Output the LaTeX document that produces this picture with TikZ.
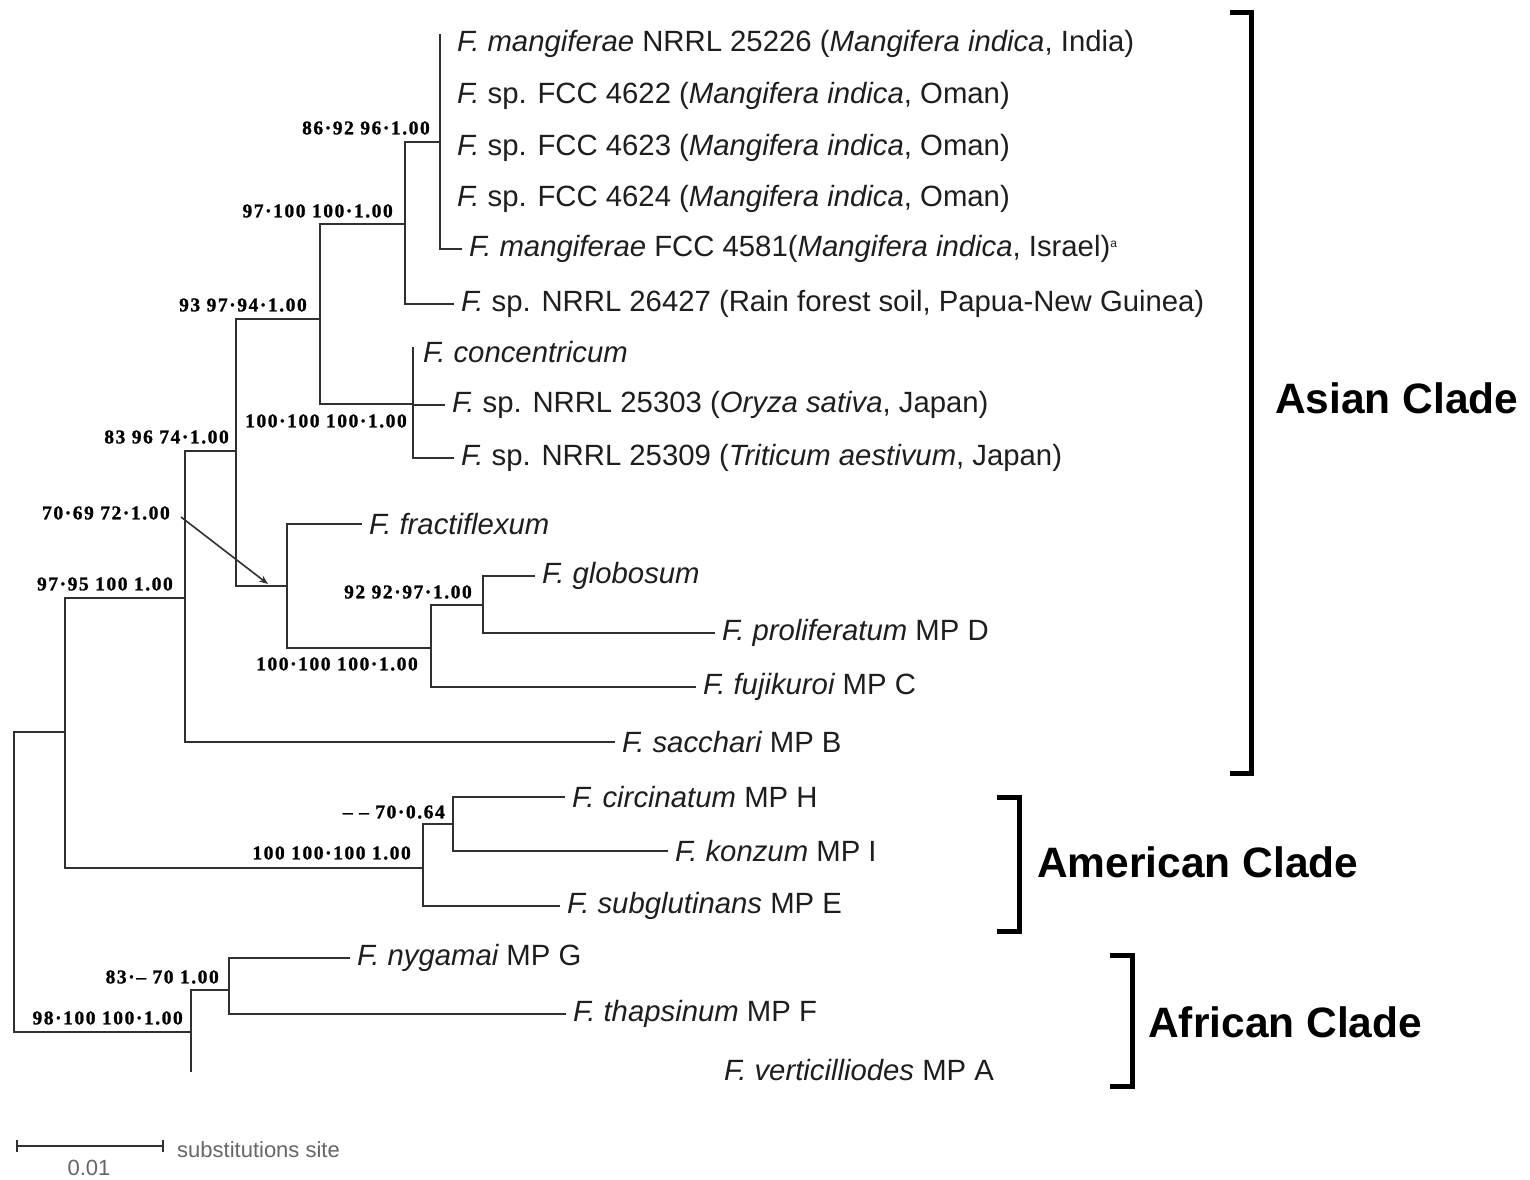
\documentclass[tikz,border=0pt]{standalone}
\usepackage{fontspec}
\setmainfont{Liberation Sans}
\newfontfamily\bsfont[LetterSpace=8,FakeBold=1.2,UprightFont={* Bold}]{Liberation Serif}
\usetikzlibrary{arrows.meta}
\definecolor{treegray}{HTML}{303030}
\definecolor{textgray}{HTML}{1E1E1E}
\tikzset{
  br/.style={draw=treegray, line width=2.9pt},
  leaf/.style={anchor=west, inner xsep=7pt, inner ysep=0pt, text=textgray, font=\fontsize{29.3}{32}\selectfont},
  bs/.style={anchor=east, inner sep=0pt, font=\bsfont\fontsize{19.5}{21}\selectfont},
  clade/.style={anchor=west, inner sep=0pt, font=\fontsize{42.5}{46}\selectfont\bfseries},
  brk/.style={draw=black, line width=5pt},
  sbar/.style={draw=treegray, line width=1.6pt},
  sbtext/.style={inner sep=0pt, text=gray!80!black, font=\fontsize{22}{24}\selectfont},
}
\newcommand{\spn}[1]{{\itshape #1}}
\begin{document}
\begin{tikzpicture}[x=1pt, y=-1pt]
\useasboundingbox (0,0) rectangle (1530,1179);
\fill[white] (0,0) rectangle (1530,1179);

% internal nodes
\coordinate (R) at (14,880);
\coordinate (n65) at (65,732);
\coordinate (n185) at (185,598);
\coordinate (n236) at (236,451);
\coordinate (n320) at (320,319);
\coordinate (n405) at (405,224);
\coordinate (n440) at (440,142);
\coordinate (n413) at (413,404);
\coordinate (n287) at (287,586);
\coordinate (n431) at (431,648);
\coordinate (n483) at (483,605);
\coordinate (n423) at (423,868);
\coordinate (n453) at (453,824);
\coordinate (n191) at (191,1032);
\coordinate (n229) at (229,990);

% zero-length tips
\coordinate (t1) at (440,34);
\coordinate (t2) at (440,96);
\coordinate (t3) at (440,148);
\coordinate (t4) at (440,199);
\coordinate (t7) at (413,347);
\coordinate (t21) at (191,1072);

% leaf labels
\node[leaf] (l1) at (450,44) {\spn{F. mangiferae} NRRL 25226 (\spn{Mangifera indica}, India)};
\node[leaf] (l2) at (450,96) {\spn{F.} sp. FCC 4622 (\spn{Mangifera indica}, Oman)};
\node[leaf] (l3) at (450,148) {\spn{F.} sp. FCC 4623 (\spn{Mangifera indica}, Oman)};
\node[leaf] (l4) at (450,199) {\spn{F.} sp. FCC 4624 (\spn{Mangifera indica}, Oman)};
\node[leaf] (l5) at (462,249) {\spn{F. mangiferae} FCC 4581(\spn{Mangifera indica}, Israel)\textsuperscript{\fontsize{12}{12}\selectfont a}};
\node[leaf] (l6) at (454,304) {\spn{F.} sp. NRRL 26427 (Rain forest soil, Papua-New Guinea)};
\node[leaf] (l7) at (416,352) {\spn{F. concentricum}};
\node[leaf] (l8) at (445,405) {\spn{F.} sp. NRRL 25303 (\spn{Oryza sativa}, Japan)};
\node[leaf] (l9) at (454,458) {\spn{F.} sp. NRRL 25309 (\spn{Triticum aestivum}, Japan)};
\node[leaf] (l10) at (362,524) {\spn{F. fractiflexum}};
\node[leaf] (l11) at (535,576) {\spn{F. globosum}};
\node[leaf] (l12) at (715,633) {\spn{F. proliferatum} MP D};
\node[leaf] (l13) at (696,687) {\spn{F. fujikuroi} MP C};
\node[leaf] (l14) at (615,742) {\spn{F. sacchari} MP B};
\node[leaf] (l15) at (565,797) {\spn{F. circinatum} MP H};
\node[leaf] (l16) at (668,851) {\spn{F. konzum} MP I};
\node[leaf] (l17) at (560,906) {\spn{F. subglutinans} MP E};
\node[leaf] (l18) at (350,958) {\spn{F. nygamai} MP G};
\node[leaf] (l19) at (566,1014) {\spn{F. thapsinum} MP F};
\node[leaf] (l20) at (717,1070) {\spn{F. verticilliodes} MP A};

% branches
\draw[br] (R) |- (n65);
\draw[br] (R) |- (n191);
\draw[br] (n65) |- (n185);
\draw[br] (n65) |- (n423);
\draw[br] (n185) |- (n236);
\draw[br] (n185) |- (l14.west);
\draw[br] (n236) |- (n320);
\draw[br] (n236) |- (n287);
\draw[br] (n320) |- (n405);
\draw[br] (n320) |- (n413);
\draw[br] (n405) |- (n440);
\draw[br] (n405) |- (l6.west);
\draw[br] (n440) |- (t1);
\draw[br] (n440) |- (t2);
\draw[br] (n440) |- (t3);
\draw[br] (n440) |- (t4);
\draw[br] (n440) |- (l5.west);
\draw[br] (n413) |- (t7);
\draw[br] (n413) |- (l8.west);
\draw[br] (n413) |- (l9.west);
\draw[br] (n287) |- (l10.west);
\draw[br] (n287) |- (n431);
\draw[br] (n431) |- (n483);
\draw[br] (n431) |- (l13.west);
\draw[br] (n483) |- (l11.west);
\draw[br] (n483) |- (l12.west);
\draw[br] (n423) |- (n453);
\draw[br] (n423) |- (l17.west);
\draw[br] (n453) |- (l15.west);
\draw[br] (n453) |- (l16.west);
\draw[br] (n191) |- (n229);
\draw[br] (n191) |- (t21);
\draw[br] (n229) |- (l18.west);
\draw[br] (n229) |- (l19.west);

% support values
\node[bs] (b1) at (430,128) {86·92 96·1.00};
\node[bs] (b2) at (393,211) {97·100 100·1.00};
\node[bs] (b3) at (307,305) {93 97·94·1.00};
\node[bs] (b4) at (407,421) {100·100 100·1.00};
\node[bs] (b5) at (229,437) {83 96 74·1.00};
\node[bs] (b6) at (170,513) {70·69 72·1.00};
\node[bs] (b7) at (173,584) {97·95 100 1.00};
\node[bs] (b8) at (472,592) {92 92·97·1.00};
\node[bs] (b9) at (418,664) {100·100 100·1.00};
\node[bs] (b10) at (445,812) {– – 70·0.64};
\node[bs] (b11) at (411,853) {100 100·100 1.00};
\node[bs] (b12) at (219,977) {83·– 70 1.00};
\node[bs] (b13) at (183,1018) {98·100 100·1.00};

% arrow from 70-69-72 label to its node
\coordinate (arS) at (181,517);
\coordinate (arE) at (268,584);
\draw[draw=treegray, line width=1.6pt, -{Stealth[length=9pt,width=7pt]}] (arS) -- (arE);

% clade brackets
\draw[brk] (1230,12) -- (1251,12) -- (1251,773) -- (1230,773);
\node[clade] (asian) at (1275,398) {Asian Clade};
\draw[brk] (997,797) -- (1019,797) -- (1019,931) -- (997,931);
\node[clade] (american) at (1037,862) {American Clade};
\draw[brk] (1110,955) -- (1132,955) -- (1132,1086) -- (1110,1086);
\node[clade] (african) at (1148,1022) {African Clade};

% scale bar
\coordinate (s1) at (17,1146);
\coordinate (s2) at (163,1146);
\draw[sbar] (s1) -- (s2);
\draw[sbar] ([yshift=-6pt]s1) -- ([yshift=6pt]s1);
\draw[sbar] ([yshift=-6pt]s2) -- ([yshift=6pt]s2);
\node[sbtext, anchor=west] (sbl) at (177,1150) {substitutions site};
\node[sbtext] (sbv) at (89,1168) {0.01};
\end{tikzpicture}
\end{document}
